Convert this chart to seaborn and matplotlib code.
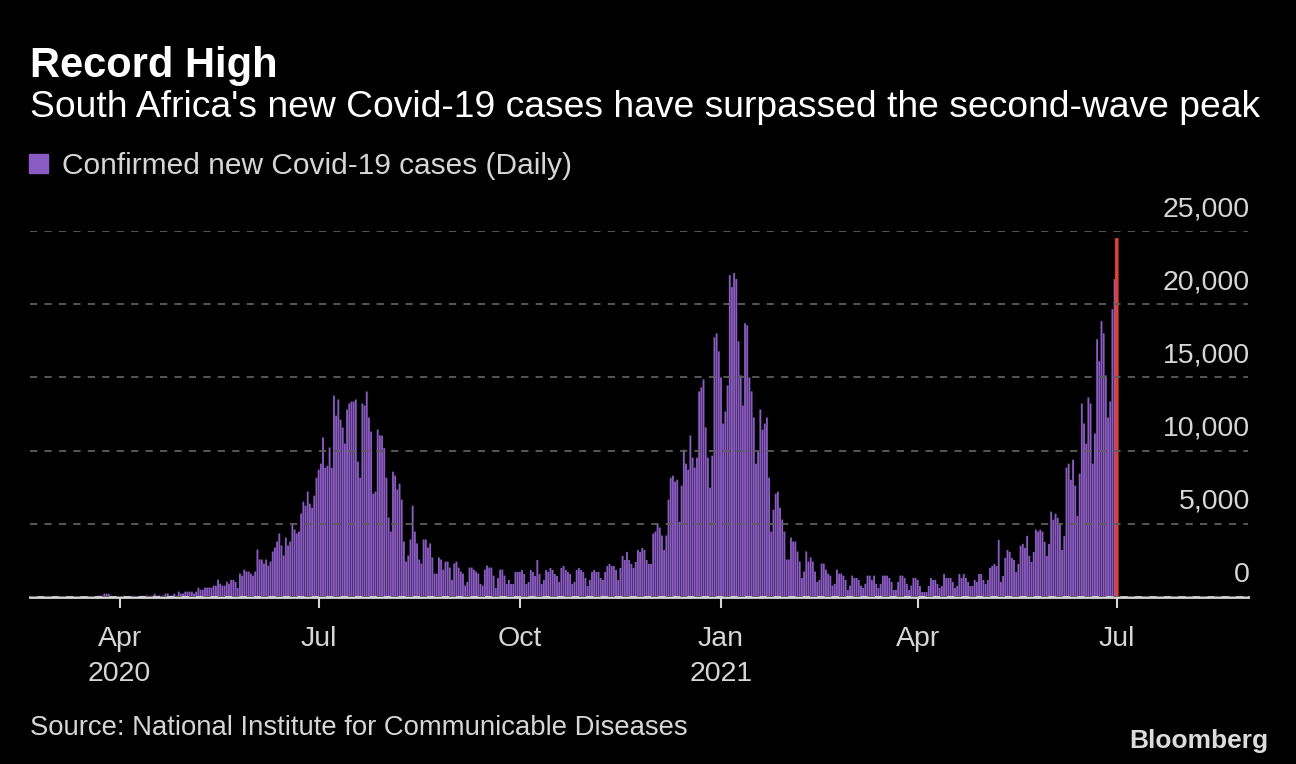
import pandas as pd
import seaborn as sns
import matplotlib.pyplot as plt
import matplotlib.dates as mdates
from matplotlib.patches import Patch
from matplotlib.transforms import ScaledTranslation

# daily new cases, 5 Mar 2020 to 1 Jul 2021
cases_mar_may_2020 = [1, 0, 2, 1, 4, 3, 7, 8, 10, 0, 13, 7, 13, 15, 24, 30, 52,
                      85, 95, 90, 230, 230, 220,
                      90, 40, 30, 60, 20, 50, 90, 40, 60, 30, 90, 50, 40, 70,
                      90, 85, 95, 90, 80, 95, 230, 90, 95, 85, 100, 230, 240,
                      90, 100, 230, 95, 365, 230, 240, 365, 370, 360, 365, 230,
                      365, 640, 500, 500, 640, 640, 650, 640, 775, 775, 1186,
                      910, 775, 775, 1050, 910]
cases_first_wave = [1165, 1165, 1030, 620, 1600, 1460, 1870, 1740, 1740, 1600,
                    1460, 1740, 3240, 2560, 2560, 2290, 2560, 2150, 2420, 3110,
                    3380, 3790, 4340, 3520, 2840, 4060, 3520, 3790, 5020, 4610,
                    4340, 4470, 5700, 6510, 6240, 7200, 6380, 6100, 6920, 8150,
                    8700, 9110, 10890, 8830, 8970, 10210, 8830, 13760, 12390,
                    13490, 12120, 11580, 10480, 12800, 13220, 13350, 13350,
                    13490, 9250]
cases_first_decline = [8150, 13220, 13080, 14040, 12260, 11300, 7060, 7200,
                       11440, 11030, 11030, 10170, 8150, 5430, 4470, 8560, 8290,
                       7340, 7750, 6650, 3790, 2420, 2840, 3930, 6240, 4470,
                       3660, 2560, 2290, 3930, 3930, 3380, 3660, 2700, 1600,
                       1600, 2700, 2560, 1870, 2420, 2420, 2010, 1165, 2290,
                       2420, 2010, 1740, 1600, 780, 1030, 2010, 2010, 1870,
                       1740, 1600, 900, 780, 1870, 2150, 2010, 2010, 1460, 620,
                       1300, 1870, 1870, 1460, 900, 1165]
cases_spring_lull = [890, 890, 1710, 1710, 1710, 1850, 1575, 890, 1030, 1850,
                     1710, 1438, 2530, 1575, 890, 1165, 1850, 1710, 1985, 1850,
                     1575, 1438, 1030, 1985, 2120, 1850, 1710, 1575, 890, 1030,
                     1850, 1985, 1850, 1710, 1300, 750, 1165, 1710, 1850, 1710,
                     1710, 1300, 1165, 1710, 2120, 2260, 2120, 2120, 1850, 1165,
                     1985, 2800, 2530, 3080, 2530, 2260, 1985, 2400, 3220, 3080,
                     3350, 3220, 2530, 2260, 2260, 4330, 4470, 5020, 4740, 4200,
                     3220, 4200, 6650, 8150]
cases_second_wave = [8290, 7880, 8010, 5140, 7610, 10070, 9110, 8700, 11030,
                     9520, 8840, 9520, 14040, 14320, 14860, 11580, 9520, 7470,
                     9660, 17740, 18010, 16780, 15000, 11850, 12670, 14450,
                     21990, 21170, 22130, 21720, 17470, 15140, 13080, 18700,
                     18560, 15000, 14040, 12260, 9110, 9930, 12810, 11440,
                     11850, 12260]
cases_second_decline = [8150, 4470, 5960, 7060, 7200, 6100, 5290, 4470, 2560,
                        2560, 4060, 3790, 3790, 3110, 2420, 1300, 1740, 3110,
                        2420, 2700, 2420, 1740, 1030, 1165, 2290, 2290, 1870,
                        1600, 1460, 780, 900, 1870, 1600, 1600, 1460, 1165, 480,
                        780, 1460, 1300, 1300, 1165, 780, 620, 900, 1460, 1460,
                        1165, 1460, 900, 620, 900, 1460, 1460, 1460, 1300, 1030,
                        480, 480, 1030, 1460, 1460, 1300, 900, 480, 780, 1300]
cases_apr_may_2021 = [1300, 1165, 750, 340, 340, 340, 750, 1300, 1165, 1165,
                      890, 615, 750, 1575, 1300, 1300, 1300, 1030, 615, 750,
                      1575, 1300, 1575, 1300, 1030, 750, 750, 1165, 1030, 1575,
                      1575, 1165, 890, 1165, 1985, 2120, 2260, 2120, 3905, 1030,
                      1438, 2670, 3220, 3080, 2670, 2530, 1710, 2260, 3490, 3630,
                      3360, 4180, 2810, 2400]
cases_third_wave = [3080, 4600, 4470, 4600, 4470, 3770, 2810, 3630, 5830, 5280,
                    5690, 5410, 5000, 3220, 4180, 8840, 9110, 8010, 9380, 7610,
                    5550, 8430, 13220, 11850, 10480, 13630, 13220, 9110, 11170,
                    17610, 16110, 18840, 18010, 15140, 12260, 13360, 19660,
                    21720, 24455]

x_tick_dates = ['2020-04-01', '2020-07-01', '2020-10-01', '2021-01-01',
                '2021-04-01', '2021-07-01']
x_tick_labels = ['Apr\n2020', 'Jul', 'Oct', 'Jan\n2021', 'Apr', 'Jul']
y_ticks = [0, 5000, 10000, 15000, 20000, 25000]

cases = (cases_mar_may_2020 + cases_first_wave + cases_first_decline +
         cases_spring_lull + cases_second_wave + cases_second_decline +
         cases_apr_may_2021 + cases_third_wave)
dates = pd.date_range('2020-03-05', periods=len(cases), freq='D')
df = pd.DataFrame({'day': mdates.date2num(dates), 'cases': cases})
df['kind'] = 'past'
df.loc[df.index[-1], 'kind'] = 'latest'

purple = '#8a5bc2'
red = '#e2412e'
grey = '#d6d6d6'

sns.set_style('dark')
plt.rcParams['font.family'] = ['Liberation Sans', 'DejaVu Sans']

fig = plt.figure(figsize=(12.96, 7.64), dpi=100, facecolor='black')
ax = fig.add_axes([30 / 1296, 167 / 764, 1218 / 1296, 366 / 764])
ax.set_facecolor('black')

sns.barplot(data=df, x='day', y='cases', hue='kind',
            palette={'past': purple, 'latest': red}, native_scale=True,
            dodge=False, width=0.85, linewidth=0, saturation=1,
            errorbar=None, legend=False, ax=ax)
for bar in ax.patches:
    # no pixel snapping, so the thin daily bars look even
    bar.set_snap(False)
    if bar.get_facecolor()[0] > 0.8:
        bar.set_edgecolor(red)
        bar.set_linewidth(1.2)

ax.set_xlim(mdates.date2num(pd.Timestamp('2020-02-20')),
            mdates.date2num(pd.Timestamp('2021-08-30')))
ax.set_ylim(0, 25000)

for s in ['left', 'right', 'top']:
    ax.spines[s].set_visible(False)
ax.spines['bottom'].set_color(grey)
ax.spines['bottom'].set_linewidth(2)

ax.set_axisbelow(False)
ax.set_yticks(y_ticks)
ax.yaxis.grid(True, linestyle=(0, (4, 4)), color='#5e5e5e', linewidth=1.3)
ax.xaxis.grid(False)
ax.tick_params(axis='y', length=0, labelleft=False)
for v in y_ticks:
    ax.text(1.0, v, f'{v:,}', transform=ax.get_yaxis_transform() +
            ScaledTranslation(0.02, 0.15, fig.dpi_scale_trans),
            ha='right', va='baseline', fontsize=20.5, color=grey)

ax.set_xticks(mdates.date2num(pd.to_datetime(x_tick_dates)))
ax.set_xticklabels(x_tick_labels, linespacing=1.45)
ax.tick_params(axis='x', direction='out', length=8, width=1.5, color=grey,
               labelcolor=grey, labelsize=20.5, pad=13, bottom=True)
ax.set_xlabel('')
ax.set_ylabel('')

fig.text(30 / 1296, 1 - 77 / 764, 'Record High', fontsize=30,
         fontweight='bold', color='white', va='baseline')
fig.text(30 / 1296, 1 - 117 / 764,
         "South Africa's new Covid-19 cases have surpassed the second-wave peak",
         fontsize=26.8, color='white', va='baseline')
fig.legend(handles=[Patch(color=purple, label='Confirmed new Covid-19 cases (Daily)')],
           loc='upper left', bbox_to_anchor=(29 / 1296, 1 - 152 / 764),
           frameon=False, fontsize=21.5, labelcolor=grey, handlelength=0.65,
           handleheight=0.65, handletextpad=0.45, borderpad=0, borderaxespad=0)
fig.text(30 / 1296, 1 - 735 / 764,
         'Source: National Institute for Communicable Diseases',
         fontsize=19.8, color=grey, va='baseline')
fig.text(1268 / 1296, 1 - 748 / 764, 'Bloomberg', fontsize=19,
         fontweight='bold', color='#dcdcdc', ha='right', va='baseline')

fig.savefig('out.png', dpi=100, facecolor='black')
